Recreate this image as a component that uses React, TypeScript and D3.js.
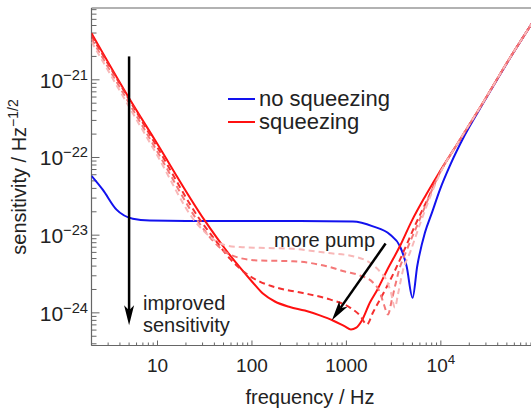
import React from "react";
import * as d3 from "d3";

type P = [number, number];

// frequency (Hz), sensitivity (1/sqrt(Hz))
const noSqueezing: P[] = [
  [2, 5.8e-23], [2.63, 3.85e-23], [3.68, 2.13e-23], [5.47, 1.63e-23], [8.28, 1.54e-23],
  [20, 1.52e-23], [100, 1.52e-23], [321, 1.52e-23], [1170, 1.5e-23], [1910, 1.3e-23],
  [2890, 1.02e-23], [3690, 7.2e-24], [4340, 3.98e-24], [5020, 1.56e-24], [5620, 3.98e-24],
  [6790, 1.08e-23], [8050, 1.95e-23], [9780, 3.86e-23], [12470, 7.85e-23], [17990, 1.96e-22],
  [27900, 4.95e-22], [50100, 1.64e-21], [100000, 6.2e-21],
];

const squeezing: P[] = [
  [2, 3.98e-21], [4.88, 6.1e-22], [9.36, 1.69e-22], [31.7, 1.54e-23], [49.5, 7.2e-24],
  [74.5, 3.84e-24], [102, 2.46e-24], [130.5, 1.77e-24], [174.8, 1.4e-24], [252, 1.19e-24],
  [363, 1.07e-24], [523, 9.27e-25], [719, 7.98e-25], [964, 6.68e-25], [1117, 6.12e-25],
  [1261, 6.4e-25], [1459, 7.98e-25], [1774, 1.36e-24], [2104, 1.94e-24], [2685, 3.51e-24],
  [3690, 7.24e-24], [4940, 1.54e-23], [6790, 3.13e-23], [9310, 6.01e-23], [15920, 1.69e-22],
  [27900, 5.06e-22], [50100, 1.66e-21], [100000, 6.2e-21],
];

const pumpLow: P[] = [
  [2, 3.08e-21], [5, 4.49e-22], [10, 1.05e-22], [24.8, 1.52e-23], [35.8, 9.6e-24],
  [49.2, 7.57e-24], [74.5, 7.03e-24], [121, 6.87e-24], [271, 6.67e-24], [617, 5.92e-24],
  [1172, 5.36e-24], [1774, 4.41e-24], [2265, 3.4e-24], [2667, 2.61e-24], [2960, 1.83e-24],
  [3264, 1.17e-24], [3513, 1.73e-24], [3966, 3.51e-24], [4710, 5.97e-24], [6150, 1.5e-23],
  [9780, 6.19e-23], [15920, 1.69e-22], [27900, 5.06e-22], [50100, 1.66e-21], [100000, 6.2e-21],
];

const pumpMid: P[] = [
  [2, 3.37e-21], [5, 4.99e-22], [10, 1.18e-22], [26.7, 1.52e-23], [37.6, 8.77e-24],
  [51.6, 6.15e-24], [74.5, 5.08e-24], [121, 4.72e-24], [271, 4.62e-24], [617, 3.98e-24],
  [964, 3.4e-24], [1390, 3.03e-24], [1910, 2.46e-24], [2265, 1.83e-24], [2496, 1.28e-24],
  [2752, 9.53e-25], [3035, 1.49e-24], [3345, 2.46e-24], [3597, 3.51e-24], [4165, 5.64e-24],
  [5720, 1.41e-23], [9550, 6.01e-23], [15920, 1.69e-22], [27900, 5.06e-22], [50100, 1.66e-21],
  [100000, 6.2e-21],
];

const pumpHigh: P[] = [
  [2, 3.68e-21], [5, 5.58e-22], [10, 1.34e-22], [28.8, 1.52e-23], [40.5, 8.77e-24],
  [58.3, 5.0e-24], [84.1, 3.3e-24], [121, 2.53e-24], [197.5, 2.06e-24], [346, 1.8e-24],
  [668, 1.49e-24], [1089, 1.17e-24], [1390, 9.27e-25], [1648, 7.1e-25], [1910, 1.01e-24],
  [2685, 2.18e-24], [3264, 3.51e-24], [4165, 6.73e-24], [5320, 1.33e-23], [7130, 2.79e-23],
  [9550, 6.01e-23], [15920, 1.69e-22], [27900, 5.06e-22], [50100, 1.66e-21], [100000, 6.2e-21],
];

const xTickValues = [10, 100, 1000, 10000];
const xTickLabels = ["10", "100", "1000", "10^4"];
const yTickValues = [1e-24, 1e-23, 1e-22, 1e-21];
const yTickLabels = ["10^−24", "10^−23", "10^−22", "10^−21"];

// annotation anchors (frequency, sensitivity)
const sensArrow: P[] = [[5, 2.0e-21], [5, 6.9e-25]];
const pumpArrow: P[] = [[2600, 7.8e-24], [702, 8.05e-25]];

const FONT = "'Liberation Sans', Arial, Helvetica, sans-serif";

const L = 91.5, R = 535.3, T = 8, B = 345.5;

const xScale = d3.scaleLog().domain([2, 1e5]).range([L, R]);
const yScale = d3.scaleLog().domain([3.8e-25, 8.4e-21]).range([B, T]);

const line = d3
  .line<P>()
  .x((d) => xScale(d[0]))
  .y((d) => yScale(d[1]))
  .curve(d3.curveMonotoneX);

function Label({ text, x, y, anchor, size }: { text: string; x: number; y: number; anchor: string; size: number }) {
  const [base, sup] = text.split("^");
  return (
    <text x={x} y={y} textAnchor={anchor} fontSize={size} fontFamily={FONT} fill="#222">
      {base}
      {sup !== undefined && (
        <tspan dy={-8} fontSize={size * 0.7}>
          {sup}
        </tspan>
      )}
    </text>
  );
}

function Arrow({ pts, head = 20, half = 5 }: { pts: P[]; head?: number; half?: number }) {
  const x1 = xScale(pts[0][0]), y1 = yScale(pts[0][1]);
  const x2 = xScale(pts[1][0]), y2 = yScale(pts[1][1]);
  const dx = x2 - x1, dy = y2 - y1;
  const len = Math.hypot(dx, dy);
  const ux = dx / len, uy = dy / len;
  const nx = -uy, ny = ux;
  const bx = x2 - ux * head, by = y2 - uy * head;
  const nbx = x2 - ux * head * 0.75, nby = y2 - uy * head * 0.75;
  const poly = [
    [x2, y2],
    [bx + nx * half, by + ny * half],
    [nbx, nby],
    [bx - nx * half, by - ny * half],
  ]
    .map((p) => p.join(","))
    .join(" ");
  return (
    <g>
      <line x1={x1} y1={y1} x2={nbx} y2={nby} stroke="#000" strokeWidth={2.5} />
      <polygon points={poly} fill="#000" />
    </g>
  );
}

export default function App() {
  const xt = xScale.ticks().filter((t) => t >= 2 && t <= 1e5);
  const yt = yScale.ticks();
  const isMajor = (v: number) => Math.abs(Math.log10(v) - Math.round(Math.log10(v))) < 1e-6;

  return (
    <svg
      width={531}
      height={408}
      style={{ position: "absolute", left: 0, top: 0, background: "#fff" }}
    >
      <defs>
        <clipPath id="plot">
          <rect x={L} y={T} width={R - L} height={B - T} />
        </clipPath>
      </defs>

      {/* frame */}
      <line x1={L} y1={T} x2={531} y2={T} stroke="#666" strokeWidth={1.2} />
      <line x1={L} y1={B} x2={531} y2={B} stroke="#666" strokeWidth={1.2} />
      <line x1={L} y1={T} x2={L} y2={B} stroke="#666" strokeWidth={1.2} />

      {/* x ticks */}
      {xt.map((t, i) => {
        const x = xScale(t);
        const len = isMajor(t) ? 5 : 3;
        return <line key={"xt" + i} x1={x} y1={B} x2={x} y2={B - len} stroke="#666" strokeWidth={1} />;
      })}
      {/* y ticks */}
      {yt.map((t, i) => {
        const y = yScale(t);
        const len = isMajor(t) ? 8 : 5;
        return <line key={"yt" + i} x1={L} y1={y} x2={L + len} y2={y} stroke="#666" strokeWidth={1} />;
      })}

      {xTickValues.map((v, i) => (
        <Label key={"xl" + i} text={xTickLabels[i]} x={xScale(v)} y={372} anchor="middle" size={19} />
      ))}
      {yTickValues.map((v, i) => (
        <Label key={"yl" + i} text={yTickLabels[i]} x={88} y={yScale(v) + 8} anchor="end" size={21} />
      ))}

      <text x={310} y={404} textAnchor="middle" fontSize={20} fontFamily={FONT} fill="#222">
        frequency / Hz
      </text>
      <text
        transform="translate(26,177) rotate(-90)"
        textAnchor="middle"
        fontSize={20}
        fontFamily={FONT}
        fill="#222"
      >
        sensitivity / Hz
        <tspan dy={-8} fontSize={14}>
          −1/2
        </tspan>
      </text>

      <g clipPath="url(#plot)" fill="none" strokeWidth={2} strokeLinejoin="round">
        <path d={line(noSqueezing) || ""} stroke="#1212ee" />
        <path d={line(squeezing) || ""} stroke="#ff1010" />
        <path d={line(pumpHigh) || ""} stroke="#f53030" strokeDasharray="6,4" />
        <path d={line(pumpMid) || ""} stroke="#f47878" strokeDasharray="6,4" />
        <path d={line(pumpLow) || ""} stroke="#f8b8b8" strokeDasharray="6,4" />
      </g>

      {/* legend */}
      <line x1={228} y1={99} x2={255} y2={99} stroke="#1212ee" strokeWidth={2} />
      <line x1={228} y1={122} x2={255} y2={122} stroke="#ff1010" strokeWidth={2} />
      <text x={259} y={106} fontSize={22} fontFamily={FONT} fill="#222">
        no squeezing
      </text>
      <text x={259} y={129} fontSize={22} fontFamily={FONT} fill="#222">
        squeezing
      </text>

      <text x={274} y={247} fontSize={20} fontFamily={FONT} fill="#222">
        more pump
      </text>
      <text x={143} y={310} fontSize={20} fontFamily={FONT} fill="#222">
        improved
      </text>
      <text x={143} y={332} fontSize={20} fontFamily={FONT} fill="#222">
        sensitivity
      </text>

      <Arrow pts={sensArrow} />
      <Arrow pts={pumpArrow} />
    </svg>
  );
}
